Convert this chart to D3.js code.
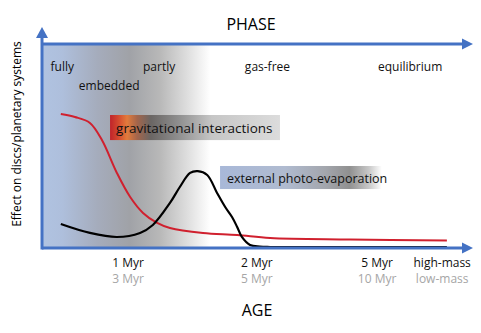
<!DOCTYPE html>
<html>
<head>
<meta charset="utf-8">
<script src="https://cdn.jsdelivr.net/npm/d3@7"></script>
<style>
  body { margin: 0; background: #fff; }
  svg text { font-family: "Open Sans", sans-serif; }
</style>
</head>
<body>
<div id="viz"></div>
<script>
// schematic time (0-100) and effect (0-100)
var redT = [4.4, 7.7, 11.2, 14.0, 17.5, 20.6, 23.6, 26.9, 29.9, 37.6, 45.6, 53.3, 72.0, 94.6];
var redV = [65.7, 64.2, 61.3, 52.9, 36.8, 25.0, 17.2, 12.3, 9.8, 7.4, 6.4, 4.9, 4.2, 3.7];

var blackT = [4.4, 11.2, 17.5, 22.9, 25.9, 29.9, 32.2, 34.6, 36.4, 38.6, 40.9, 42.8, 44.4, 45.6, 46.7, 48.6, 50.9, 53.3, 94.6];
var blackV = [11.8, 7.4, 5.4, 7.4, 11.3, 22.1, 29.9, 36.8, 37.7, 35.8, 27.0, 20.1, 15.2, 10.3, 5.4, 1.5, 0.7, 0.5, 0.5];

var tickAt = [20.1, 50.2, 78.3, 93.5];
var tickHigh = ['1 Myr', '2 Myr', '5 Myr', 'high-mass'];
var tickLow = ['3 Myr', '5 Myr', '10 Myr', 'low-mass'];

var phases = ['fully', 'embedded', 'partly', 'gas-free', 'equilibrium'];
var phaseAt = [2.0, 8.6, 23.6, 47.4, 78.5];
var phaseRow = [0, 1, 0, 0, 0];

var processes = ['gravitational interactions', 'external photo-evaporation'];
var procT0 = [15.9, 41.6];
var procT1 = [55.6, 79.4];
var procV0 = [52.9, 28.9];
var procV1 = [65.2, 40.2];

var width = 481,
	height = 333,
	axisColor = '#4472c4';

var x = d3.scaleLinear().domain([0, 100]).range([42, 470]);
var y = d3.scaleLinear().domain([0, 100]).range([248, 44]);

var svg = d3.select('#viz').append('svg')
	.attr('width', width)
	.attr('height', height);

var defs = svg.append('defs');

// embedded phase shading
var shade = defs.append('linearGradient').attr('id', 'shade')
	.attr('gradientUnits', 'userSpaceOnUse')
	.attr('x1', x(0)).attr('x2', x(39.3)).attr('y1', 0).attr('y2', 0);
[[0, '#b0c3e1'], [0.12, '#aebfdc'], [0.33, '#a5acbc'], [0.52, '#a0a2a7'], [0.7, '#b8b8b8'], [0.86, '#dddddd'], [1, '#ffffff']]
	.forEach(function(s){ shade.append('stop').attr('offset', s[0]).attr('stop-color', s[1]); });

var gradGrav = defs.append('linearGradient').attr('id', 'grav');
[[0, '#c0232a'], [0.05, '#d44a2e'], [0.1, '#e27b3c'], [0.16, '#a3654b'], [0.24, '#6a6664'], [0.4, '#8e8e8e'], [0.6, '#c6c6c6'], [1, '#dcdcdc']]
	.forEach(function(s){ gradGrav.append('stop').attr('offset', s[0]).attr('stop-color', s[1]); });

var gradEvap = defs.append('linearGradient').attr('id', 'evap');
[[0, '#a8b8d8'], [0.4, '#b0bbd0'], [0.65, '#a3a6ad'], [0.8, '#909090'], [0.92, '#c8c8c8'], [1, '#ffffff']]
	.forEach(function(s){ gradEvap.append('stop').attr('offset', s[0]).attr('stop-color', s[1]); });

svg.append('rect')
	.attr('x', x(0)).attr('y', y(100))
	.attr('width', x(39.3) - x(0))
	.attr('height', y(0) - y(100))
	.attr('fill', 'url(#shade)');

// process boxes
var boxes = svg.selectAll('g.proc').data(processes)
	.enter().append('g').attr('class', 'proc');
boxes.append('rect')
	.attr('x', function(d, i){ return x(procT0[i]); })
	.attr('y', function(d, i){ return y(procV1[i]); })
	.attr('width', function(d, i){ return x(procT1[i]) - x(procT0[i]); })
	.attr('height', function(d, i){ return y(procV0[i]) - y(procV1[i]); })
	.attr('fill', function(d, i){ return i == 0 ? 'url(#grav)' : 'url(#evap)'; });
boxes.append('text')
	.attr('x', function(d, i){ return x(procT0[i]) + (i == 0 ? 6 : 7); })
	.attr('y', function(d, i){ return y(procV0[i]) - (i == 0 ? 7 : 6); })
	.attr('font-size', function(d, i){ return i == 0 ? '13.5px' : '12.5px'; })
	.attr('fill', '#111')
	.text(function(d){ return d; });

// curves
var line = d3.line()
	.x(function(d){ return x(d[0]); })
	.y(function(d){ return y(d[1]); })
	.curve(d3.curveCatmullRom.alpha(0.5));

svg.append('path')
	.datum(redT.map(function(t, i){ return [t, redV[i]]; }))
	.attr('d', line)
	.attr('fill', 'none')
	.attr('stroke', '#d0202e')
	.attr('stroke-width', 2);

svg.append('path')
	.datum(blackT.map(function(t, i){ return [t, blackV[i]]; }))
	.attr('d', line)
	.attr('fill', 'none')
	.attr('stroke', '#000')
	.attr('stroke-width', 2.2);

// axes (arrows)
var ax = svg.append('g')
	.attr('stroke', axisColor)
	.attr('stroke-width', 3)
	.attr('fill', 'none');
ax.append('line').attr('x1', x(0)).attr('x2', 464).attr('y1', y(0)).attr('y2', y(0));
ax.append('line').attr('x1', x(0)).attr('x2', 464).attr('y1', y(100)).attr('y2', y(100));
ax.append('line').attr('x1', x(0)).attr('x2', x(0)).attr('y1', 37).attr('y2', y(0) + 1.5);

var heads = [
	[[473, y(0)], [462, y(0) - 5.5], [462, y(0) + 5.5]],
	[[473, y(100)], [462, y(100) - 5.5], [462, y(100) + 5.5]],
	[[x(0), 27], [x(0) - 6, 38], [x(0) + 6, 38]]
];
svg.selectAll('path.head').data(heads)
	.enter().append('path').attr('class', 'head')
	.attr('d', function(d){ return 'M' + d.join('L') + 'Z'; })
	.attr('fill', axisColor);

// tick labels
svg.selectAll('text.high').data(tickHigh)
	.enter().append('text').attr('class', 'high')
	.attr('x', function(d, i){ return x(tickAt[i]); })
	.attr('y', 267)
	.attr('text-anchor', 'middle')
	.attr('font-size', '12px')
	.attr('fill', '#111')
	.text(function(d){ return d; });

svg.selectAll('text.low').data(tickLow)
	.enter().append('text').attr('class', 'low')
	.attr('x', function(d, i){ return x(tickAt[i]); })
	.attr('y', 283)
	.attr('text-anchor', 'middle')
	.attr('font-size', '12px')
	.attr('fill', '#a6a6a6')
	.text(function(d){ return d; });

// phase labels
svg.selectAll('text.phase').data(phases)
	.enter().append('text').attr('class', 'phase')
	.attr('x', function(d, i){ return x(phaseAt[i]); })
	.attr('y', function(d, i){ return phaseRow[i] ? 90 : 71; })
	.attr('font-size', '12px')
	.attr('fill', '#111')
	.text(function(d){ return d; });

// titles
svg.append('text')
	.attr('x', 251).attr('y', 30)
	.attr('text-anchor', 'middle')
	.attr('font-size', '16px')
	.text('PHASE');

svg.append('text')
	.attr('x', 257).attr('y', 316)
	.attr('text-anchor', 'middle')
	.attr('font-size', '16px')
	.text('AGE');

svg.append('text')
	.attr('transform', 'translate(21,134) rotate(-90)')
	.attr('text-anchor', 'middle')
	.attr('font-size', '12px')
	.text('Effect on discs/planetary systems');
</script>
</body>
</html>
